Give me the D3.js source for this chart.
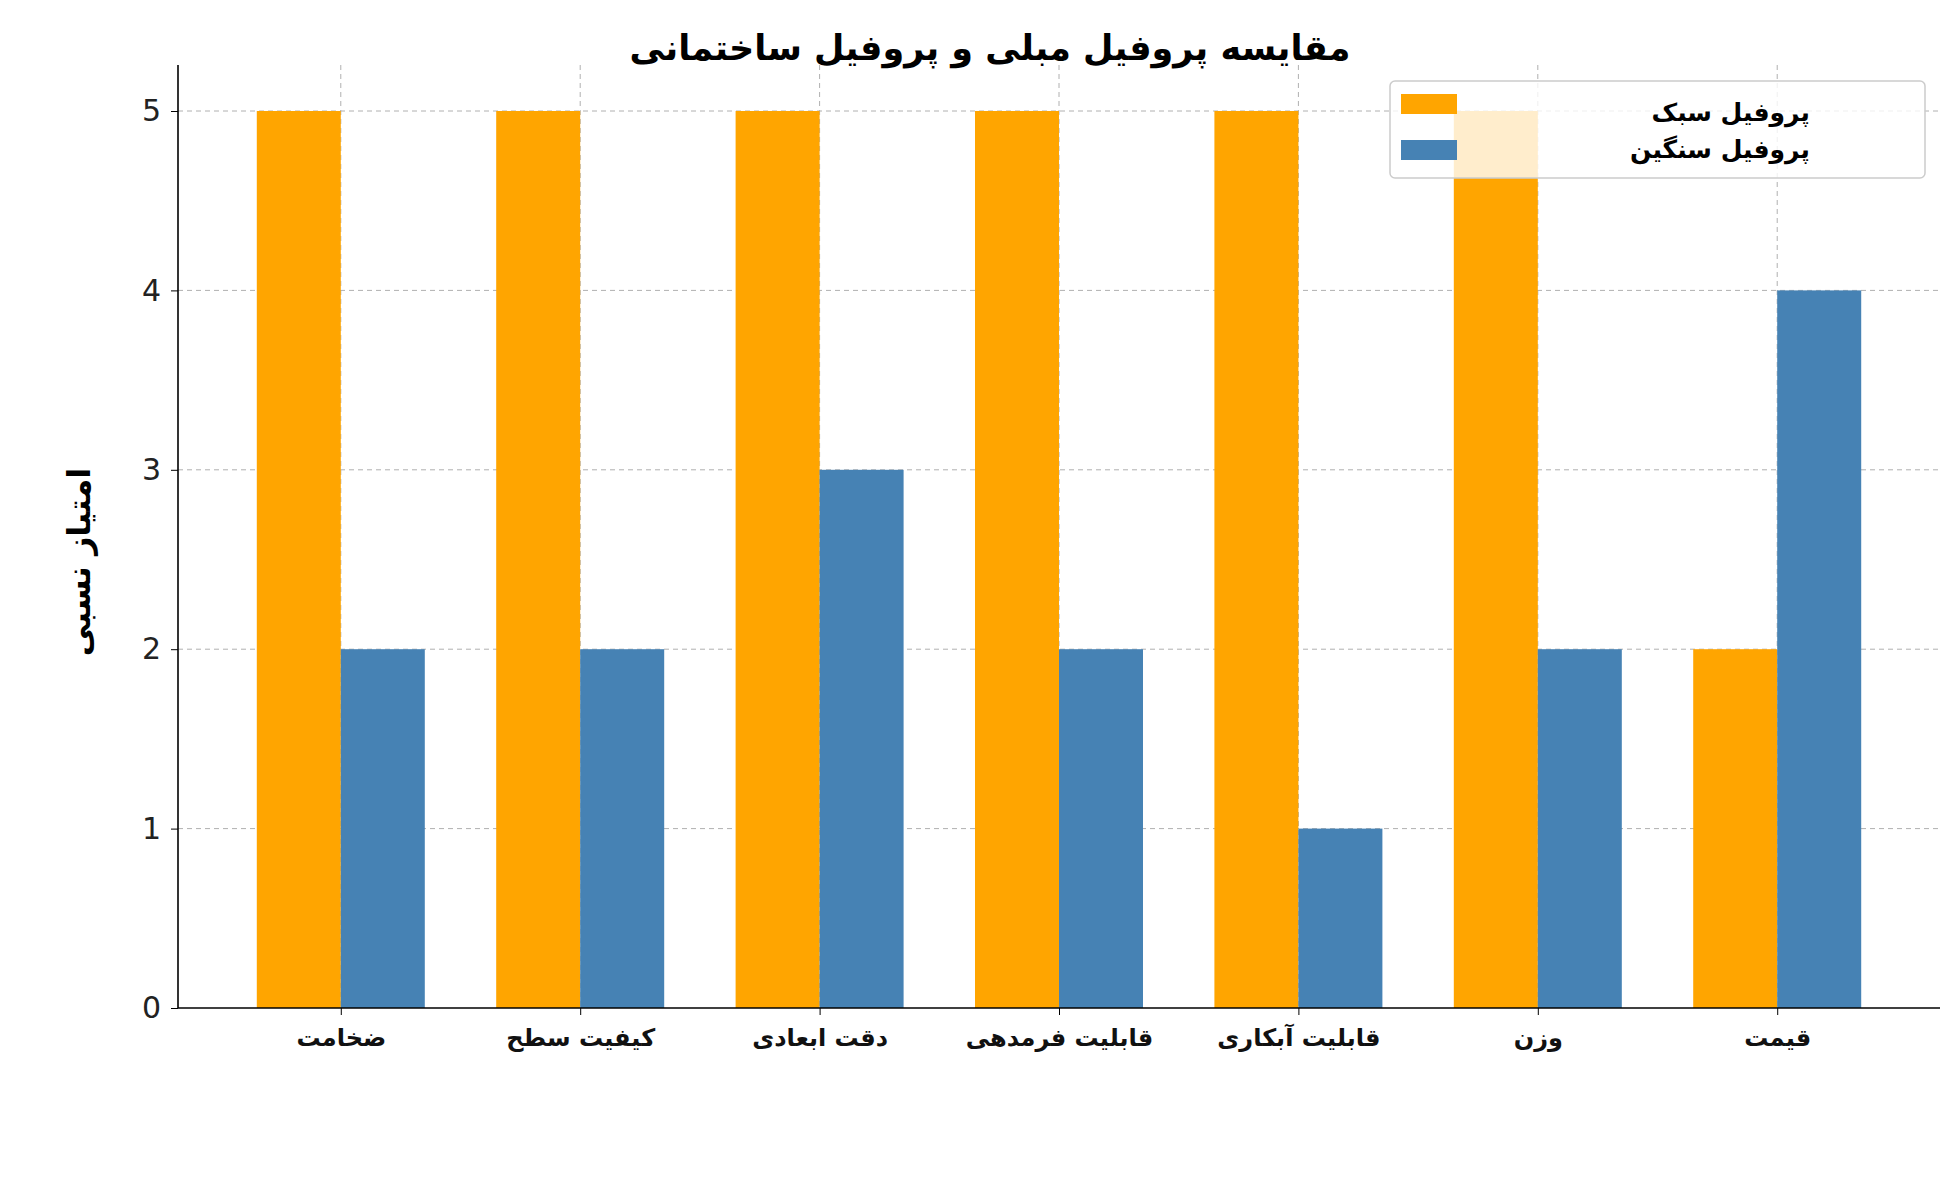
<!DOCTYPE html>
<html><head><meta charset="utf-8">
<script src="https://cdn.jsdelivr.net/npm/d3@7"></script>
<style>body{margin:0;background:#fff}text{font-family:"DejaVu Sans",sans-serif}</style>
</head><body><svg id="c" width="1960" height="1180"></svg>
<script>
const categories = ["ضخامت","کیفیت سطح","دقت ابعادی","قابلیت فرمدهی","قابلیت آبکاری","وزن","قیمت"];
const lightValues = [5,5,5,5,5,5,2];
const heavyValues = [2,2,3,2,1,2,4];
const seriesNames = ["پروفیل سبک","پروفیل سنگین"];
const colors = ["#FFA500","#4682B4"];
const yTicks = [0,1,2,3,4,5];

const svg = d3.select("#c");
const mLeft = 178, mRight = 1940, mTop = 65, mBottom = 1008;

const x = d3.scalePoint().domain(categories).range([mLeft, mRight]).padding(0.68);
const sub = d3.scaleBand().domain([0,1]).range([-84,84]);
const y = d3.scaleLinear().domain([0,5.25]).range([mBottom, mBottom-(mBottom-111)*5.25/5]);

// grid
const grid = svg.append("g").attr("stroke","#b0b0b0").attr("stroke-dasharray","5,4").attr("stroke-width",1);
yTicks.slice(1).forEach(t => grid.append("line").attr("x1",mLeft).attr("x2",mRight).attr("y1",y(t)).attr("y2",y(t)));
categories.forEach(c => grid.append("line").attr("x1",x(c)).attr("x2",x(c)).attr("y1",mTop).attr("y2",mBottom));

// bars
[lightValues, heavyValues].forEach((vals, s) => {
  svg.append("g").selectAll("rect").data(vals).enter().append("rect")
    .attr("x",(d,i)=>x(categories[i])+sub(s))
    .attr("width",sub.bandwidth())
    .attr("y",d=>y(d))
    .attr("height",d=>mBottom-y(d))
    .attr("fill",colors[s]);
});

// axes
const ya = svg.append("g").attr("transform",`translate(${mLeft},0)`)
  .call(d3.axisLeft(y).tickValues(yTicks).tickFormat(d3.format("d")).tickSize(7).tickPadding(10));
ya.selectAll("text").style("font-size","30px").attr("fill","#222");
const xa = svg.append("g").attr("transform",`translate(0,${mBottom})`)
  .call(d3.axisBottom(x).tickSize(7).tickPadding(14));
xa.selectAll("text").style("font-size","24px").style("font-weight","bold").attr("fill","#111");
svg.selectAll(".domain").attr("stroke","#000").attr("stroke-width",1.6);
svg.selectAll(".tick line").attr("stroke","#000");
ya.select(".domain").attr("d",`M0,${mBottom}V${mTop}`);
xa.select(".domain").attr("d",`M${mLeft},0H${mRight}`);

// title and y label
svg.append("text").attr("x",990).attr("y",60).attr("text-anchor","middle")
  .style("font-size","35px").style("font-weight","bold").text("مقایسه پروفیل مبلی و پروفیل ساختمانی");
svg.append("text").attr("transform","translate(90,562) rotate(-90)").attr("text-anchor","middle")
  .style("font-size","32px").style("font-weight","bold").text("امتیاز نسبی");

// legend
const lg = svg.append("g");
lg.append("rect").attr("x",1390).attr("y",81).attr("width",535).attr("height",97).attr("rx",5)
  .attr("fill","#fff").attr("fill-opacity",0.8).attr("stroke","#ccc").attr("stroke-width",1.5);
seriesNames.forEach((n,i)=>{
  lg.append("rect").attr("x",1401).attr("y",94+i*46).attr("width",56).attr("height",20).attr("fill",colors[i]);
  lg.append("text").attr("x",1810).attr("y",121+i*37).attr("text-anchor","end")
    .style("font-size","25px").style("font-weight","bold").text(n);
});
</script></body></html>
